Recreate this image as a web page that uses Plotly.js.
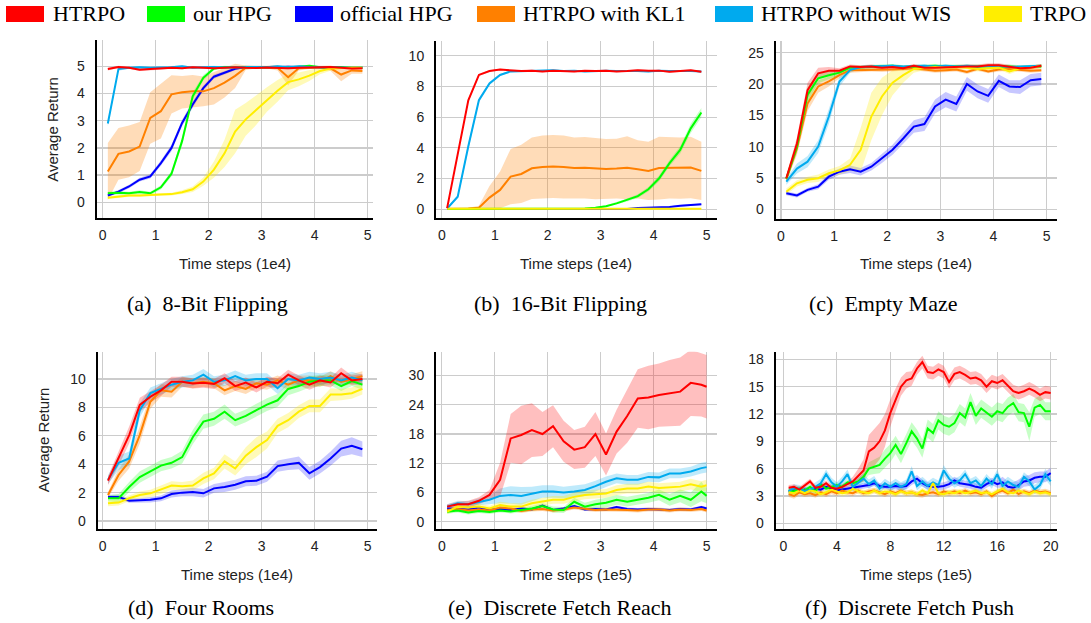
<!DOCTYPE html>
<html><head><meta charset="utf-8">
<script src="https://cdn.plot.ly/plotly-3.0.1.min.js"></script>
<style>html,body{margin:0;padding:0;background:#fff;}#chart{width:1091px;height:623px;}</style>
</head><body><div id="chart"></div>
<script>
// ---------------- DATA ----------------
const SERIES_NAMES = ['HTRPO','our HPG','official HPG','HTRPO with KL1','HTRPO without WIS','TRPO'];

const x1e4 = [0.1,0.3,0.5,0.7,0.9,1.1,1.3,1.5,1.7,1.9,2.1,2.3,2.5,2.7,2.9,3.1,3.3,3.5,3.7,3.9,4.1,4.3,4.5,4.7,4.9];
const xe = [0.1,0.3,0.5,0.7,0.9,1.1,1.3,1.5,1.7,1.9,2.1,2.3,2.5,2.7,2.9,3.1,3.3,3.5,3.7,3.9,4.1,4.3,4.5,4.7,4.9,5.0];
const xf = [0.4,0.8,1.2,1.6,2,2.4,2.8,3.2,3.6,4,4.4,4.8,5.2,5.6,6,6.4,6.8,7.2,7.6,8,8.4,8.8,9.2,9.6,10,10.4,10.8,11.2,11.6,12,12.4,12.8,13.2,13.6,14,14.4,14.8,15.2,15.6,16,16.4,16.8,17.2,17.6,18,18.4,18.8,19.2,19.6,20];

// (a) 8-Bit Flipping
const a_HTRPO   = [4.9,4.98,4.95,4.88,4.9,4.92,4.95,4.93,4.97,4.95,4.93,4.95,4.97,4.95,4.94,4.96,4.95,4.93,4.95,4.96,4.95,4.98,4.95,4.92,4.93];
const a_ourHPG  = [0.33,0.35,0.33,0.38,0.33,0.55,1.05,2.25,3.9,4.58,4.92,4.98,4.97,4.98,4.96,4.97,4.98,4.97,4.99,5.02,4.97,4.96,4.97,4.95,4.95];
const a_offHPG  = [0.25,0.39,0.58,0.83,0.95,1.44,2.0,2.92,3.6,4.2,4.62,4.77,4.91,4.98,4.97,4.98,4.97,4.99,4.97,4.98,4.97,4.98,4.96,4.95,4.95];
const a_KL1     = [1.13,1.78,1.87,2.05,3.1,3.35,3.97,4.05,4.08,4.08,4.2,4.4,4.65,4.95,4.97,4.97,4.95,4.6,4.93,4.95,4.97,4.93,4.7,4.85,4.83];
const a_noWIS   = [2.9,4.9,4.95,4.97,4.95,4.95,4.97,5.0,4.95,4.97,4.98,4.96,4.97,4.98,4.98,4.97,5.0,4.97,5.0,4.98,4.98,4.96,4.95,4.95,4.97];
const a_TRPO    = [0.17,0.2,0.25,0.25,0.27,0.3,0.3,0.37,0.48,0.76,1.2,1.8,2.6,3.05,3.4,3.78,4.1,4.42,4.52,4.66,4.83,4.92,4.95,4.96,4.96];
const a_HTRPO_sd  = [0.05,0.04,0.04,0.05,0.04,0.04,0.04,0.04,0.03,0.04,0.04,0.04,0.03,0.04,0.04,0.03,0.04,0.04,0.04,0.03,0.04,0.03,0.04,0.04,0.04];
const a_ourHPG_sd = [0.06,0.06,0.06,0.06,0.06,0.08,0.1,0.15,0.15,0.1,0.06,0.04,0.04,0.04,0.04,0.04,0.04,0.04,0.04,0.04,0.04,0.04,0.04,0.04,0.04];
const a_offHPG_sd = [0.05,0.06,0.06,0.07,0.08,0.1,0.12,0.12,0.12,0.1,0.08,0.06,0.05,0.04,0.04,0.04,0.04,0.04,0.04,0.04,0.04,0.04,0.04,0.04,0.04];
const a_KL1_sd    = [1.05,0.95,0.95,0.9,0.95,1.0,0.7,0.6,0.6,0.55,0.6,0.55,0.45,0.08,0.05,0.05,0.1,0.3,0.08,0.05,0.05,0.1,0.25,0.12,0.1];
const a_noWIS_sd  = [0.1,0.06,0.04,0.04,0.04,0.04,0.04,0.04,0.04,0.04,0.04,0.04,0.04,0.04,0.04,0.04,0.04,0.04,0.04,0.04,0.04,0.04,0.04,0.04,0.04];
const a_TRPO_sd   = [0.05,0.05,0.05,0.05,0.05,0.05,0.05,0.07,0.1,0.15,0.3,0.5,0.8,0.6,0.55,0.45,0.4,0.3,0.25,0.2,0.12,0.08,0.05,0.05,0.05];

// (b) 16-Bit Flipping
const b_HTRPO   = [0.07,3.6,7.1,8.75,9.0,9.1,9.05,9.0,9.03,8.98,9.02,9.0,8.97,9.02,9.0,9.03,8.97,9.0,9.05,9.02,9.03,8.95,9.0,9.05,8.95];
const b_ourHPG  = [0.01,0.01,0.01,0.01,0.01,0.01,0.01,0.01,0.01,0.01,0.02,0.02,0.03,0.05,0.1,0.2,0.38,0.6,0.85,1.3,2.0,3.0,3.86,5.27,6.3];
const b_offHPG  = [0.02,0.02,0.02,0.02,0.02,0.02,0.02,0.02,0.02,0.02,0.02,0.02,0.02,0.02,0.02,0.02,0.02,0.02,0.08,0.1,0.12,0.15,0.22,0.28,0.32];
const b_KL1     = [0.03,0.03,0.05,0.1,0.76,1.26,2.13,2.3,2.67,2.75,2.78,2.75,2.68,2.7,2.65,2.62,2.65,2.7,2.6,2.5,2.68,2.7,2.68,2.72,2.5];
const b_noWIS   = [0.05,0.82,4.1,7.1,8.2,8.75,8.98,9.0,9.02,9.0,9.05,9.0,9.02,8.97,9.0,9.02,9.0,9.02,9.0,8.98,9.02,9.0,9.02,9.0,8.98];
const b_TRPO    = [0.04,0.04,0.04,0.05,0.04,0.04,0.04,0.05,0.04,0.04,0.04,0.04,0.05,0.04,0.04,0.04,0.04,0.05,0.04,0.04,0.04,0.05,0.04,0.04,0.04];
const b_HTRPO_sd  = [0.05,0.15,0.12,0.08,0.05,0.05,0.05,0.05,0.05,0.05,0.05,0.05,0.05,0.05,0.05,0.05,0.05,0.05,0.05,0.05,0.05,0.05,0.05,0.05,0.05];
const b_ourHPG_sd = [0.01,0.01,0.01,0.01,0.01,0.01,0.01,0.01,0.01,0.01,0.01,0.01,0.01,0.02,0.04,0.06,0.08,0.1,0.12,0.15,0.2,0.2,0.25,0.3,0.3];
const b_offHPG_sd = [0.01,0.01,0.01,0.01,0.01,0.01,0.01,0.01,0.01,0.01,0.01,0.01,0.01,0.01,0.01,0.01,0.01,0.02,0.03,0.03,0.04,0.05,0.05,0.06,0.06];
const b_KL1_sd    = [0.03,0.03,0.05,0.12,0.75,1.2,1.8,1.9,2.0,2.05,2.05,2.05,2.0,2.0,2.0,1.95,1.95,2.05,1.9,1.9,2.05,2.0,2.0,2.0,1.9];
const b_noWIS_sd  = [0.05,0.1,0.2,0.15,0.1,0.06,0.05,0.05,0.05,0.05,0.05,0.05,0.05,0.05,0.05,0.05,0.05,0.05,0.05,0.05,0.05,0.05,0.05,0.05,0.05];
const b_TRPO_sd   = [0.02,0.02,0.02,0.02,0.02,0.02,0.02,0.02,0.02,0.02,0.02,0.02,0.02,0.02,0.02,0.02,0.02,0.02,0.02,0.02,0.02,0.02,0.02,0.02,0.02];

// (c) Empty Maze
const c_HTRPO   = [4.95,10.5,19.0,21.7,22.1,22.1,22.8,22.7,22.8,22.6,22.7,22.5,22.9,22.6,22.6,22.7,22.7,22.8,22.8,23.0,23.0,22.7,22.5,22.6,22.9];
const c_ourHPG  = [4.9,10.0,18.3,20.9,21.4,21.8,22.6,22.7,22.8,22.8,22.9,22.7,22.8,22.8,22.9,22.8,22.8,22.9,22.8,22.9,22.8,22.8,22.7,22.8,22.8];
const c_offHPG  = [2.55,2.2,3.1,3.6,5.2,6.0,6.4,6.0,6.8,8.1,9.5,11.3,13.2,13.6,16.4,17.5,16.8,20.0,18.8,18.1,20.5,19.6,19.5,20.6,20.8];
const c_KL1     = [4.8,9.7,16.9,19.6,20.4,21.4,22.2,22.2,22.3,22.2,22.3,22.4,22.5,22.3,22.1,22.2,22.3,21.9,22.4,22.0,22.3,22.4,22.2,22.1,22.2];
const c_noWIS   = [4.4,6.5,7.6,10.0,14.8,20.4,22.2,22.7,22.8,22.9,22.9,22.8,22.9,22.9,22.8,22.9,22.8,22.9,22.8,22.8,22.9,22.7,22.8,22.8,22.9];
const c_TRPO    = [2.8,4.15,4.7,4.95,5.75,6.2,7.1,9.5,14.8,18.0,20.2,21.4,22.4,22.6,22.7,22.6,22.7,22.6,22.4,22.5,22.6,22.0,22.5,22.6,22.9];
const c_HTRPO_sd  = [0.5,1.0,1.2,0.9,0.6,0.4,0.3,0.3,0.3,0.3,0.3,0.3,0.3,0.3,0.3,0.3,0.3,0.3,0.3,0.3,0.3,0.3,0.3,0.3,0.3];
const c_ourHPG_sd = [0.4,0.9,1.2,0.8,0.6,0.4,0.3,0.3,0.3,0.3,0.3,0.3,0.3,0.3,0.3,0.3,0.3,0.3,0.3,0.3,0.3,0.3,0.3,0.3,0.3];
const c_offHPG_sd = [0.3,0.3,0.3,0.4,0.5,0.5,0.6,0.6,0.6,0.7,0.8,0.9,1.0,1.1,1.1,1.2,1.2,1.1,1.1,1.1,1.0,1.0,1.1,1.0,1.0];
const c_KL1_sd    = [0.5,1.0,1.2,1.0,0.8,0.5,0.4,0.3,0.3,0.3,0.3,0.3,0.3,0.3,0.3,0.3,0.3,0.3,0.3,0.3,0.3,0.3,0.3,0.3,0.3];
const c_noWIS_sd  = [0.5,0.8,0.9,1.0,1.2,0.8,0.4,0.2,0.2,0.2,0.2,0.2,0.2,0.2,0.2,0.2,0.2,0.2,0.2,0.2,0.2,0.2,0.2,0.2,0.2];
const c_TRPO_sd   = [0.5,0.5,0.5,0.6,0.6,0.7,1.0,3.5,3.8,3.0,2.0,1.2,0.6,0.4,0.3,0.3,0.3,0.3,0.4,0.3,0.3,0.4,0.3,0.3,0.3];

// (d) Four Rooms
const d_HTRPO   = [2.84,4.4,6.05,8.17,8.75,9.2,9.8,9.8,9.68,9.74,9.65,10.05,9.5,9.75,9.4,9.8,9.7,10.3,9.9,9.6,9.9,9.75,10.4,9.9,10.0];
const d_ourHPG  = [1.6,1.6,2.4,3.1,3.5,3.9,4.1,4.5,5.9,7.0,7.2,7.7,7.1,7.4,7.8,8.2,8.5,9.3,9.5,9.8,9.9,9.9,9.5,9.85,9.6];
const d_offHPG  = [1.7,1.7,1.43,1.45,1.5,1.6,1.9,2.0,2.05,1.95,2.3,2.4,2.55,2.8,2.84,3.12,3.87,4.0,4.1,3.36,3.8,4.4,5.1,5.3,5.05];
const d_KL1     = [1.83,3.24,4.2,6.05,8.4,9.2,9.1,9.8,9.7,9.8,9.7,9.2,9.5,9.3,9.7,9.6,9.9,9.6,9.9,9.9,9.8,10.2,9.8,10.0,10.2];
const d_noWIS   = [2.9,4.1,4.4,7.8,9.0,9.3,9.6,9.8,9.9,10.3,9.8,9.9,10.2,9.9,10.0,10.0,9.35,10.0,9.9,10.1,10.0,10.1,9.9,10.1,9.9];
const d_TRPO    = [1.25,1.3,1.6,1.83,1.95,2.2,2.5,2.45,2.5,3.0,3.35,4.2,3.7,4.6,5.2,5.7,6.7,7.1,7.7,8.1,8.1,8.9,8.9,9.0,9.3];
const d_HTRPO_sd  = [0.3,0.5,0.6,0.5,0.4,0.4,0.35,0.35,0.35,0.35,0.35,0.35,0.35,0.35,0.35,0.35,0.35,0.35,0.35,0.35,0.35,0.35,0.4,0.35,0.35];
const d_ourHPG_sd = [0.2,0.3,0.35,0.4,0.4,0.4,0.4,0.45,0.5,0.5,0.5,0.5,0.45,0.45,0.45,0.45,0.45,0.45,0.4,0.4,0.4,0.35,0.35,0.35,0.35];
const d_offHPG_sd = [0.15,0.15,0.15,0.15,0.2,0.2,0.25,0.25,0.3,0.3,0.3,0.35,0.35,0.35,0.35,0.35,0.4,0.4,0.45,0.45,0.45,0.5,0.55,0.6,0.55];
const d_KL1_sd    = [0.2,0.4,0.5,0.6,0.5,0.45,0.4,0.35,0.35,0.35,0.35,0.35,0.35,0.35,0.35,0.35,0.35,0.35,0.35,0.35,0.35,0.35,0.35,0.35,0.35];
const d_noWIS_sd  = [0.3,0.5,0.5,0.5,0.4,0.4,0.4,0.4,0.4,0.4,0.4,0.4,0.4,0.4,0.4,0.4,0.4,0.4,0.4,0.4,0.4,0.4,0.4,0.4,0.4];
const d_TRPO_sd   = [0.2,0.2,0.2,0.25,0.25,0.3,0.3,0.3,0.35,0.4,0.4,0.5,0.5,0.6,0.7,0.6,0.5,0.5,0.45,0.45,0.45,0.45,0.4,0.4,0.4];

// (e) Discrete Fetch Reach
const e_HTRPO   = [3.1,3.6,3.6,4.3,5.5,8.6,17.1,17.8,18.8,18.0,19.6,16.5,14.8,15.3,18.0,13.8,18.5,21.7,25.3,25.5,26.0,26.4,26.7,28.5,28.1,27.7];
const e_ourHPG  = [2.05,2.3,1.9,2.2,2.0,2.3,2.1,2.4,2.7,3.2,2.5,2.4,4.1,3.1,3.6,3.9,4.5,4.1,4.5,4.9,5.5,4.5,5.3,4.5,6.2,5.3];
const e_offHPG  = [2.7,2.6,2.5,2.9,2.5,2.6,2.4,2.7,2.5,3.3,2.4,2.7,3.2,2.5,2.6,2.5,3.0,2.6,2.5,2.6,2.5,2.4,2.6,2.5,3.0,2.7];
const e_KL1     = [2.4,2.6,2.3,2.5,2.3,2.9,2.7,2.2,2.5,2.6,2.3,2.5,2.9,2.7,2.4,2.5,2.5,2.4,2.3,2.5,2.5,2.3,2.5,2.4,2.6,2.3];
const e_noWIS   = [3.1,3.8,3.6,4.1,4.5,5.3,5.5,5.3,5.7,6.2,6.2,6.0,6.2,6.5,7.3,8.2,8.9,8.6,8.6,9.2,9.1,9.9,9.9,10.3,11.0,11.2];
const e_TRPO    = [2.05,3.1,2.9,3.1,2.7,3.4,3.1,3.1,3.8,4.1,4.5,4.5,5.1,5.5,5.7,5.8,6.5,6.8,6.8,7.2,6.9,7.0,7.2,7.7,7.2,7.5];
const e_HTRPO_sd  = [0.5,0.5,0.7,0.7,1.0,3.5,5.0,6.0,5.5,4.5,4.3,4.2,4.0,4.2,4.5,4.3,4.5,5.5,6.0,6.5,6.5,6.8,7.0,6.8,6.5,6.5];
const e_ourHPG_sd = [0.4,0.4,0.4,0.4,0.4,0.4,0.4,0.5,0.5,0.6,0.6,0.6,0.8,0.8,0.9,1.0,1.0,1.0,1.0,1.0,1.1,1.2,1.3,1.5,2.0,1.5];
const e_offHPG_sd = [0.3,0.3,0.3,0.3,0.3,0.3,0.3,0.3,0.3,0.3,0.3,0.3,0.3,0.3,0.3,0.3,0.3,0.3,0.3,0.3,0.3,0.3,0.3,0.3,0.3,0.3];
const e_KL1_sd    = [0.4,0.4,0.4,0.4,0.4,0.4,0.4,0.4,0.4,0.4,0.4,0.4,0.4,0.4,0.4,0.4,0.4,0.4,0.4,0.4,0.4,0.4,0.4,0.4,0.4,0.4];
const e_noWIS_sd  = [0.5,0.5,0.6,0.7,0.9,1.5,1.8,1.8,1.5,1.3,1.3,1.2,1.2,1.2,1.1,1.1,1.0,1.0,1.0,1.0,1.0,1.0,1.0,1.0,1.1,1.1];
const e_TRPO_sd   = [0.5,0.6,0.6,0.6,0.6,0.7,0.7,0.7,0.7,0.8,0.8,0.8,0.9,0.9,0.9,0.9,1.0,1.0,1.0,1.0,1.0,1.0,1.0,1.1,1.1,1.1];

// (f) Discrete Fetch Push
const f_HTRPO   = [3.9,4.0,3.7,4.2,4.6,3.9,4.0,4.4,3.9,3.8,4.0,4.3,4.6,5.2,5.8,7.9,8.3,9.0,10.2,12.1,13.6,15.0,15.7,15.9,17.0,17.7,16.6,16.5,16.9,16.6,15.5,16.4,16.6,16.3,15.9,16.0,15.7,15.0,15.6,15.4,15.7,15.1,14.5,14.3,14.5,14.8,14.5,14.1,14.4,14.3];
const f_ourHPG  = [3.6,3.5,3.8,3.6,4.0,3.5,4.3,3.8,4.0,4.2,4.0,4.5,4.4,4.6,5.1,6.0,6.2,6.4,7.1,7.7,8.6,7.6,8.8,10.1,9.3,8.2,10.4,9.9,11.3,10.8,10.6,11.0,12.1,11.6,13.3,11.8,12.6,12.2,11.7,12.3,12.1,12.8,13.2,12.2,12.1,10.6,12.7,13.0,12.3,12.3];
const f_offHPG  = [3.5,3.6,3.5,3.7,3.6,3.8,3.7,4.0,3.8,3.6,3.7,3.8,3.9,4.0,4.1,4.2,4.4,4.1,4.0,4.0,4.1,4.0,4.1,4.6,4.9,4.4,4.1,4.0,4.0,4.1,4.3,4.7,4.4,4.3,4.2,4.0,3.9,4.3,4.6,4.3,4.5,4.0,3.9,4.2,4.6,4.7,5.0,5.1,5.1,5.5];
const f_KL1     = [3.2,3.0,3.4,3.2,3.3,3.1,3.4,3.2,3.5,3.3,3.6,3.4,3.3,3.6,3.3,3.5,3.6,3.4,3.2,3.5,3.3,3.6,3.3,3.4,3.2,3.1,3.3,3.4,3.2,3.5,3.3,3.5,3.3,3.6,3.3,3.4,3.2,3.5,3.0,3.4,3.6,3.3,3.7,3.2,3.5,3.3,3.6,3.4,3.5,3.3];
const f_noWIS   = [3.5,3.9,3.8,3.5,3.7,4.0,4.4,5.4,4.5,4.0,4.6,5.4,4.0,4.5,4.9,4.3,4.7,3.8,4.4,4.0,4.4,4.0,4.3,5.7,4.1,4.6,4.1,4.5,4.2,5.8,4.9,4.4,4.7,5.4,4.4,4.7,4.1,4.9,4.3,5.4,4.1,4.6,4.2,4.0,5.1,4.6,3.7,4.2,5.4,4.6];
const f_TRPO    = [3.4,3.3,3.6,3.3,3.6,3.5,3.2,3.4,3.7,3.5,3.3,3.4,3.8,3.5,3.4,3.3,3.6,3.3,3.5,3.4,3.2,3.5,3.3,3.4,3.2,3.6,3.3,4.4,3.3,3.2,3.4,3.3,3.5,3.3,3.4,3.6,3.3,3.4,3.2,3.5,3.8,3.4,3.3,3.6,3.4,3.2,3.5,3.3,3.4,3.2];
const f_HTRPO_sd  = [0.3,0.3,0.3,0.3,0.3,0.3,0.3,0.3,0.3,0.3,0.3,0.3,0.5,0.8,1.2,1.8,2.0,2.0,1.8,1.5,1.2,1.0,0.9,0.8,0.7,0.7,0.7,0.7,0.7,0.7,0.7,0.7,0.7,0.7,0.7,0.7,0.7,0.7,0.7,0.7,0.7,0.7,0.7,0.7,0.7,0.7,0.7,0.7,0.7,0.7];
const f_ourHPG_sd = [0.3,0.3,0.3,0.3,0.3,0.3,0.3,0.3,0.3,0.3,0.3,0.3,0.3,0.3,0.5,0.7,0.8,0.9,1.0,1.0,1.0,1.0,1.0,1.0,1.0,1.0,1.0,1.0,1.0,1.0,1.0,1.0,1.0,1.0,1.0,1.0,1.0,1.0,1.0,1.0,1.0,1.0,1.0,1.0,1.0,1.6,1.0,1.0,1.0,1.0];
const f_offHPG_sd = [0.3,0.3,0.3,0.3,0.3,0.3,0.3,0.3,0.3,0.3,0.3,0.3,0.3,0.3,0.3,0.3,0.3,0.3,0.3,0.3,0.4,0.4,0.4,0.4,0.4,0.4,0.4,0.4,0.4,0.4,0.4,0.4,0.4,0.4,0.4,0.4,0.4,0.4,0.4,0.4,0.6,0.6,0.6,0.6,0.6,0.6,0.6,0.6,0.6,0.6];
const f_KL1_sd    = [0.3,0.3,0.3,0.3,0.3,0.3,0.3,0.3,0.3,0.3,0.3,0.3,0.3,0.3,0.3,0.3,0.3,0.3,0.3,0.3,0.3,0.3,0.3,0.3,0.3,0.3,0.3,0.3,0.3,0.3,0.3,0.3,0.3,0.3,0.3,0.3,0.3,0.3,0.3,0.3,0.3,0.3,0.3,0.3,0.3,0.3,0.3,0.3,0.3,0.3];
const f_noWIS_sd  = [0.4,0.4,0.4,0.4,0.4,0.5,0.5,0.5,0.5,0.5,0.5,0.5,0.5,0.5,0.5,0.5,0.5,0.5,0.5,0.5,0.5,0.5,0.5,0.6,0.5,0.5,0.5,0.5,0.5,0.6,0.5,0.5,0.5,0.5,0.5,0.5,0.5,0.5,0.5,0.5,0.5,0.5,0.5,0.5,0.5,0.5,0.5,0.5,0.6,0.5];
const f_TRPO_sd   = [0.3,0.3,0.3,0.3,0.3,0.3,0.3,0.3,0.3,0.3,0.3,0.3,0.3,0.3,0.3,0.3,0.3,0.3,0.3,0.3,0.3,0.3,0.3,0.3,0.3,0.3,0.3,0.3,0.3,0.3,0.3,0.3,0.3,0.3,0.3,0.3,0.3,0.3,0.3,0.3,0.3,0.3,0.3,0.3,0.3,0.3,0.3,0.3,0.3,0.3];

// ---------------- STYLE / LAYOUT ----------------
const W = 1091, H = 623;
const COLORS = ['#ff0000','#00ff00','#0000ff','#ff8000','#00aaee','#ffee00'];
const FILLS  = ['rgba(255,0,0,0.25)','rgba(0,255,0,0.22)','rgba(0,0,255,0.22)','rgba(255,128,0,0.28)','rgba(0,170,238,0.25)','rgba(255,238,0,0.28)'];
const DRAW_ORDER = [2,3,1,4,5,0];
const FONT_SANS = '"Liberation Sans", Arial, Helvetica, sans-serif';
const FONT_SERIF = '"Liberation Serif", "Times New Roman", Times, serif';

const panels = [
  {x:x1e4, ys:[a_HTRPO,a_ourHPG,a_offHPG,a_KL1,a_noWIS,a_TRPO], sds:[a_HTRPO_sd,a_ourHPG_sd,a_offHPG_sd,a_KL1_sd,a_noWIS_sd,a_TRPO_sd],
   px:[96.7,373], py:[40,218.3], xr:[-0.11,5.1], yr:[-0.59,5.97], dx:1, dy:1, xt:'Time steps (1e4)', xty:263, yt:'Average Return', ytx:51.7,
   cap:'(a)\u00a0 8-Bit Flipping', cx:207, cy:303},
  {x:x1e4, ys:[b_HTRPO,b_ourHPG,b_offHPG,b_KL1,b_noWIS,b_TRPO], sds:[b_HTRPO_sd,b_ourHPG_sd,b_offHPG_sd,b_KL1_sd,b_noWIS_sd,b_TRPO_sd],
   px:[436,716.7], py:[40.7,218.3], xr:[-0.11,5.19], yr:[-0.59,10.98], dx:1, dy:2, xt:'Time steps (1e4)', xty:263,
   cap:'(b)\u00a0 16-Bit Flipping', cx:560, cy:303},
  {x:x1e4, ys:[c_HTRPO,c_ourHPG,c_offHPG,c_KL1,c_noWIS,c_TRPO], sds:[c_HTRPO_sd,c_ourHPG_sd,c_offHPG_sd,c_KL1_sd,c_noWIS_sd,c_TRPO_sd],
   px:[775.7,1056.7], py:[40.7,219], xr:[-0.10,5.19], yr:[-1.55,26.9], dx:1, dy:5, xt:'Time steps (1e4)', xty:263,
   cap:'(c)\u00a0 Empty Maze', cx:883, cy:303},
  {x:x1e4, ys:[d_HTRPO,d_ourHPG,d_offHPG,d_KL1,d_noWIS,d_TRPO], sds:[d_HTRPO_sd,d_ourHPG_sd,d_offHPG_sd,d_KL1_sd,d_noWIS_sd,d_TRPO_sd],
   px:[97.7,376.7], py:[351.7,529], xr:[-0.094,5.17], yr:[-0.56,11.92], dx:1, dy:2, xt:'Time steps (1e4)', xty:574, yt:'Average Return', ytx:43,
   cap:'(d)\u00a0 Four Rooms', cx:201, cy:607},
  {x:xe, ys:[e_HTRPO,e_ourHPG,e_offHPG,e_KL1,e_noWIS,e_TRPO], sds:[e_HTRPO_sd,e_ourHPG_sd,e_offHPG_sd,e_KL1_sd,e_noWIS_sd,e_TRPO_sd],
   px:[436,716.7], py:[351.7,529.3], xr:[-0.11,5.19], yr:[-1.56,34.9], dx:1, dy:6, xt:'Time steps (1e5)', xty:574,
   cap:'(e)\u00a0 Discrete Fetch Reach', cx:560, cy:607},
  {x:xf, ys:[f_HTRPO,f_ourHPG,f_offHPG,f_KL1,f_noWIS,f_TRPO], sds:[f_HTRPO_sd,f_ourHPG_sd,f_offHPG_sd,f_KL1_sd,f_noWIS_sd,f_TRPO_sd],
   px:[775.7,1056.7], py:[351.7,529.3], xr:[-0.57,20.45], yr:[-0.66,18.84], dx:4, dy:3, xt:'Time steps (1e5)', xty:574,
   cap:'(f)\u00a0 Discrete Fetch Push', cx:909, cy:607}
];

const traces = [];
const layout = {
  width: W, height: H, margin: {l:0, r:0, t:0, b:0},
  paper_bgcolor: '#ffffff', plot_bgcolor: 'rgba(0,0,0,0)',
  showlegend: false, annotations: [], shapes: [], hovermode: false
};

panels.forEach((p, i) => {
  const n = i === 0 ? '' : String(i + 1);
  const xa = 'x' + n, ya = 'y' + n;
  DRAW_ORDER.forEach(k => {
    const y = p.ys[k], s = p.sds[k];
    const up = y.map((v, j) => v + s[j]);
    const lo = y.map((v, j) => v - s[j]);
    traces.push({type:'scatter', mode:'lines', x:p.x.concat(p.x.slice().reverse()),
      y:up.concat(lo.slice().reverse()), fill:'toself', fillcolor:FILLS[k],
      line:{width:0, color:FILLS[k]}, hoverinfo:'skip', xaxis:xa, yaxis:ya, showlegend:false});
  });
  DRAW_ORDER.forEach(k => {
    traces.push({type:'scatter', mode:'lines', x:p.x, y:p.ys[k], name:SERIES_NAMES[k],
      line:{color:COLORS[k], width:2}, xaxis:xa, yaxis:ya});
  });
  const common = {showgrid:true, gridcolor:'#cccccc', gridwidth:1.2, zeroline:false,
    showline:true, linecolor:'#000000', linewidth:2, ticks:'', tick0:0, fixedrange:true,
    tickfont:{family:FONT_SANS, size:14, color:'#222222'}};
  layout['xaxis' + n] = Object.assign({}, common, {domain:[p.px[0]/W, p.px[1]/W], range:p.xr, dtick:p.dx, anchor:ya, ticklabelstandoff:3});
  layout['yaxis' + n] = Object.assign({}, common, {domain:[1 - p.py[1]/H, 1 - p.py[0]/H], range:p.yr, dtick:p.dy, anchor:xa, ticklabelstandoff:7});
  layout.annotations.push({xref:'paper', yref:'paper', x:(p.px[0]+p.px[1])/2/W, y:1 - p.xty/H,
    xanchor:'center', yanchor:'middle', showarrow:false, text:p.xt, font:{family:FONT_SANS, size:15, color:'#222222'}});
  if (p.yt) {
    layout.annotations.push({xref:'paper', yref:'paper', x:p.ytx/W, y:1 - (p.py[0]+p.py[1])/2/H,
      xanchor:'center', yanchor:'middle', showarrow:false, textangle:-90, text:p.yt, font:{family:FONT_SANS, size:15, color:'#222222'}});
  }
  layout.annotations.push({xref:'paper', yref:'paper', x:p.cx/W, y:1 - p.cy/H,
    xanchor:'center', yanchor:'middle', showarrow:false, text:p.cap, font:{family:FONT_SERIF, size:22, color:'#000000'}});
});

// legend drawn as colour boxes + labels across the top
const LEG_BOX_X = [6,147,295,477,715,984];
const LEG_TXT_X = [51,191,338,521,759,1028];
SERIES_NAMES.forEach((name, k) => {
  layout.shapes.push({type:'rect', xref:'paper', yref:'paper', x0:LEG_BOX_X[k]/W, x1:(LEG_BOX_X[k]+38)/W,
    y0:1 - 22/H, y1:1 - 6/H, fillcolor:COLORS[k], line:{width:0}});
  layout.annotations.push({xref:'paper', yref:'paper', x:LEG_TXT_X[k]/W, y:1 - 13.5/H, xanchor:'left', yanchor:'middle',
    showarrow:false, text:name, font:{family:FONT_SERIF, size:22, color:'#000000'}});
});

Plotly.newPlot('chart', traces, layout, {displayModeBar:false, staticPlot:true});
</script>
</body></html>
